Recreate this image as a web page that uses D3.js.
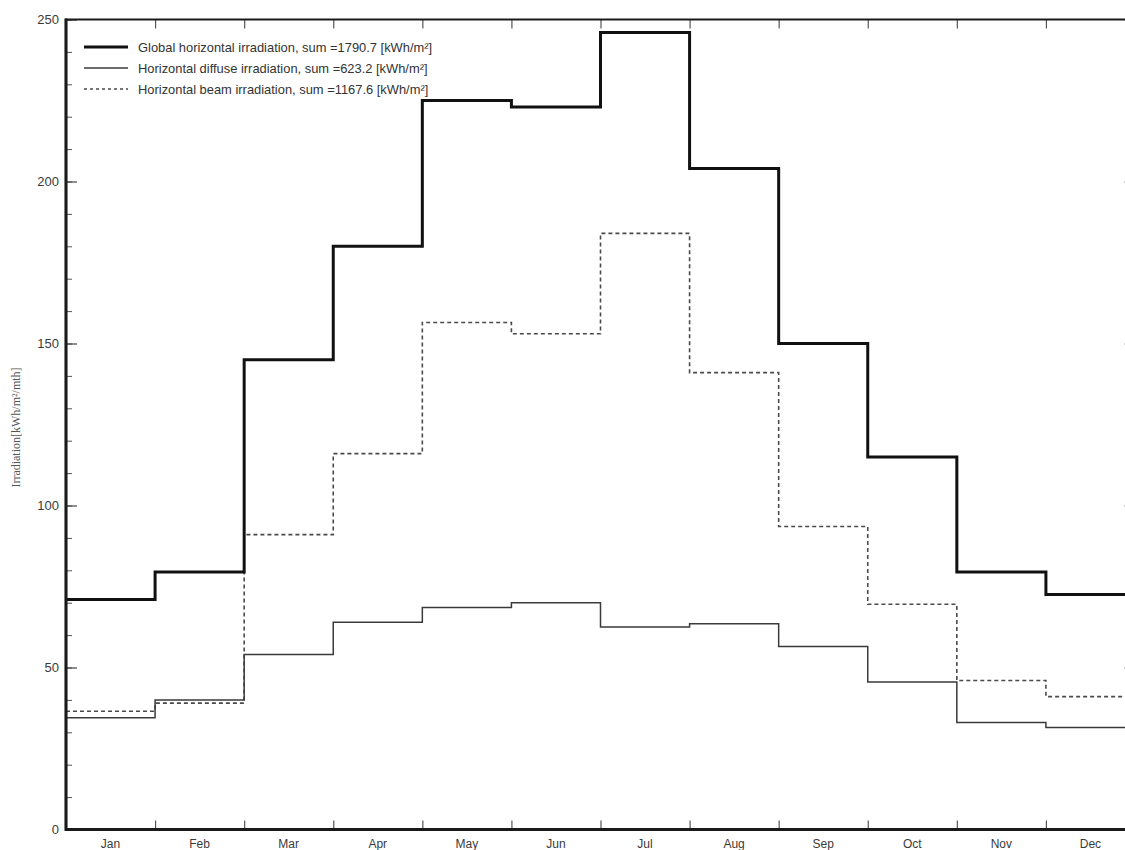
<!DOCTYPE html>
<html>
<head>
<meta charset="utf-8">
<script src="https://cdn.jsdelivr.net/npm/d3@7"></script>
<style>
  html, body { margin: 0; padding: 0; background: #fff; overflow: hidden; }
  svg { display: block; }
</style>
</head>
<body>
<svg id="chart" width="1125" height="850"></svg>
<script>
// Monthly horizontal irradiation [kWh/m²/mth]
const months = ["Jan", "Feb", "Mar", "Apr", "May", "Jun", "Jul", "Aug", "Sep", "Oct", "Nov", "Dec"];
const globalIrr  = [71, 79.5, 145, 180, 225, 223, 246, 204, 150, 115, 79.5, 72.5];
const diffuseIrr = [34.5, 40, 54, 64, 68.5, 70, 62.5, 63.5, 56.5, 45.5, 33, 31.5];
const beamIrr    = [36.5, 39, 91, 116, 156.5, 153, 184, 141, 93.5, 69.5, 46, 41];
const yMajorTicks = [0, 50, 100, 150, 200, 250];
const yMinorTicks = d3.range(0, 251, 10);
const legendLabels = [
  "Global horizontal irradiation, sum =1790.7 [kWh/m²]",
  "Horizontal diffuse irradiation, sum =623.2 [kWh/m²]",
  "Horizontal beam irradiation, sum =1167.6 [kWh/m²]"
];

const svg = d3.select("#chart");
const plotLeft = 66, plotRight = 1135, plotTop = 19.5, plotBottom = 829.5;

const x = d3.scaleLinear().domain([0, 12]).range([plotLeft, plotRight]);
const y = d3.scaleLinear().domain([0, 250]).range([plotBottom, plotTop]);

const axisColor = "#1a1a1a";
const labelColor = "#3a3a3a";
const fontSans = "Arial, 'Liberation Sans', Helvetica, sans-serif";

// Y axis (left) with major and minor ticks pointing inward
const yAxisLeft = d3.axisRight(y).tickValues(yMajorTicks).tickSize(11).tickFormat("");
const yMinorLeft = d3.axisRight(y).tickValues(yMinorTicks).tickSize(6).tickFormat("");
svg.append("g").attr("transform", `translate(${plotLeft},0)`).call(yMinorLeft)
  .call(g => g.select(".domain").remove())
  .call(g => g.selectAll("line").attr("stroke", "#555").attr("stroke-width", 1));
svg.append("g").attr("transform", `translate(${plotLeft},0)`).call(yAxisLeft)
  .call(g => g.select(".domain").remove())
  .call(g => g.selectAll("line").attr("stroke", "#444").attr("stroke-width", 1.2));

// Mirrored ticks on the right edge
const yAxisRight = d3.axisLeft(y).tickValues(yMajorTicks).tickSize(11).tickFormat("");
const yMinorRight = d3.axisLeft(y).tickValues(yMinorTicks).tickSize(6).tickFormat("");
svg.append("g").attr("transform", `translate(${plotRight},0)`).call(yMinorRight)
  .call(g => g.select(".domain").remove())
  .call(g => g.selectAll("line").attr("stroke", "#999").attr("stroke-width", 1));
svg.append("g").attr("transform", `translate(${plotRight},0)`).call(yAxisRight)
  .call(g => g.select(".domain").remove())
  .call(g => g.selectAll("line").attr("stroke", "#999").attr("stroke-width", 1.2));

// Y tick labels
svg.append("g").selectAll("text").data(yMajorTicks).join("text")
  .attr("x", plotLeft - 7)
  .attr("y", d => y(d))
  .attr("dy", "0.36em")
  .attr("text-anchor", "end")
  .attr("font-family", fontSans)
  .attr("font-size", 13)
  .attr("fill", labelColor)
  .text(d => d);

// Month boundary ticks on bottom and top axes
const boundaries = d3.range(1, 12);
const xBottom = d3.axisTop(x).tickValues(boundaries).tickSize(9).tickFormat("");
const xTop = d3.axisBottom(x).tickValues(boundaries).tickSize(9).tickFormat("");
svg.append("g").attr("transform", `translate(0,${plotBottom})`).call(xBottom)
  .call(g => g.select(".domain").remove())
  .call(g => g.selectAll("line").attr("stroke", "#555").attr("stroke-width", 1.2));
svg.append("g").attr("transform", `translate(0,${plotTop})`).call(xTop)
  .call(g => g.select(".domain").remove())
  .call(g => g.selectAll("line").attr("stroke", "#555").attr("stroke-width", 1.2));

// Month labels centred in each month
svg.append("g").selectAll("text").data(months).join("text")
  .attr("x", (d, i) => x(i + 0.5))
  .attr("y", plotBottom + 14)
  .attr("dy", "0.36em")
  .attr("text-anchor", "middle")
  .attr("font-family", fontSans)
  .attr("font-size", 12)
  .attr("fill", labelColor)
  .text(d => d);

// Y axis title
svg.append("text")
  .attr("transform", `translate(20,${(plotTop + plotBottom) / 2 + 3}) rotate(-90)`)
  .attr("text-anchor", "middle")
  .attr("font-family", "'Liberation Serif', 'Times New Roman', serif")
  .attr("font-size", 12)
  .attr("fill", "#555")
  .text("Irradiation[kWh/m²/mth]");

// Step series
const step = d3.line()
  .x(d => x(d[0]))
  .y(d => y(d[1]))
  .curve(d3.curveStepAfter);
const toSteps = vals => vals.map((v, i) => [i, v]).concat([[12, vals[vals.length - 1]]]);

const series = [
  { values: beamIrr,    stroke: "#4a4a4a", width: 1.6, dash: "4,3" },
  { values: diffuseIrr, stroke: "#3a3a3a", width: 1.5, dash: null },
  { values: globalIrr,  stroke: "#111",    width: 3,   dash: null }
];
svg.append("g").selectAll("path").data(series).join("path")
  .attr("d", d => step(toSteps(d.values)))
  .attr("fill", "none")
  .attr("stroke", d => d.stroke)
  .attr("stroke-width", d => d.width)
  .attr("stroke-dasharray", d => d.dash)
  .attr("stroke-linejoin", "miter");

// Frame
svg.append("path")
  .attr("d", `M${plotLeft},${plotBottom}V${plotTop}H${plotRight}`)
  .attr("fill", "none").attr("stroke", axisColor).attr("stroke-width", 2.2);
svg.append("path")
  .attr("d", `M${plotLeft},${plotBottom}H${plotRight}V${plotTop}`)
  .attr("fill", "none").attr("stroke", axisColor).attr("stroke-width", 3);
svg.append("line")
  .attr("x1", plotLeft).attr("x2", plotLeft).attr("y1", plotTop - 1).attr("y2", plotBottom + 1.5)
  .attr("stroke", axisColor).attr("stroke-width", 3);

// Legend
const legendStyles = [
  { stroke: "#111",    width: 3,   dash: null },
  { stroke: "#3a3a3a", width: 1.5, dash: null },
  { stroke: "#4a4a4a", width: 1.4, dash: "3,3" }
];
const legend = svg.append("g");
legendLabels.forEach((label, i) => {
  const ly = 47 + i * 21;
  legend.append("line")
    .attr("x1", 84).attr("x2", 128).attr("y1", ly).attr("y2", ly)
    .attr("stroke", legendStyles[i].stroke)
    .attr("stroke-width", legendStyles[i].width)
    .attr("stroke-dasharray", legendStyles[i].dash);
  legend.append("text")
    .attr("x", 138).attr("y", ly)
    .attr("dy", "0.36em")
    .attr("font-family", fontSans)
    .attr("font-size", 12.9)
    .attr("fill", "#333")
    .text(label);
});
</script>
</body>
</html>
